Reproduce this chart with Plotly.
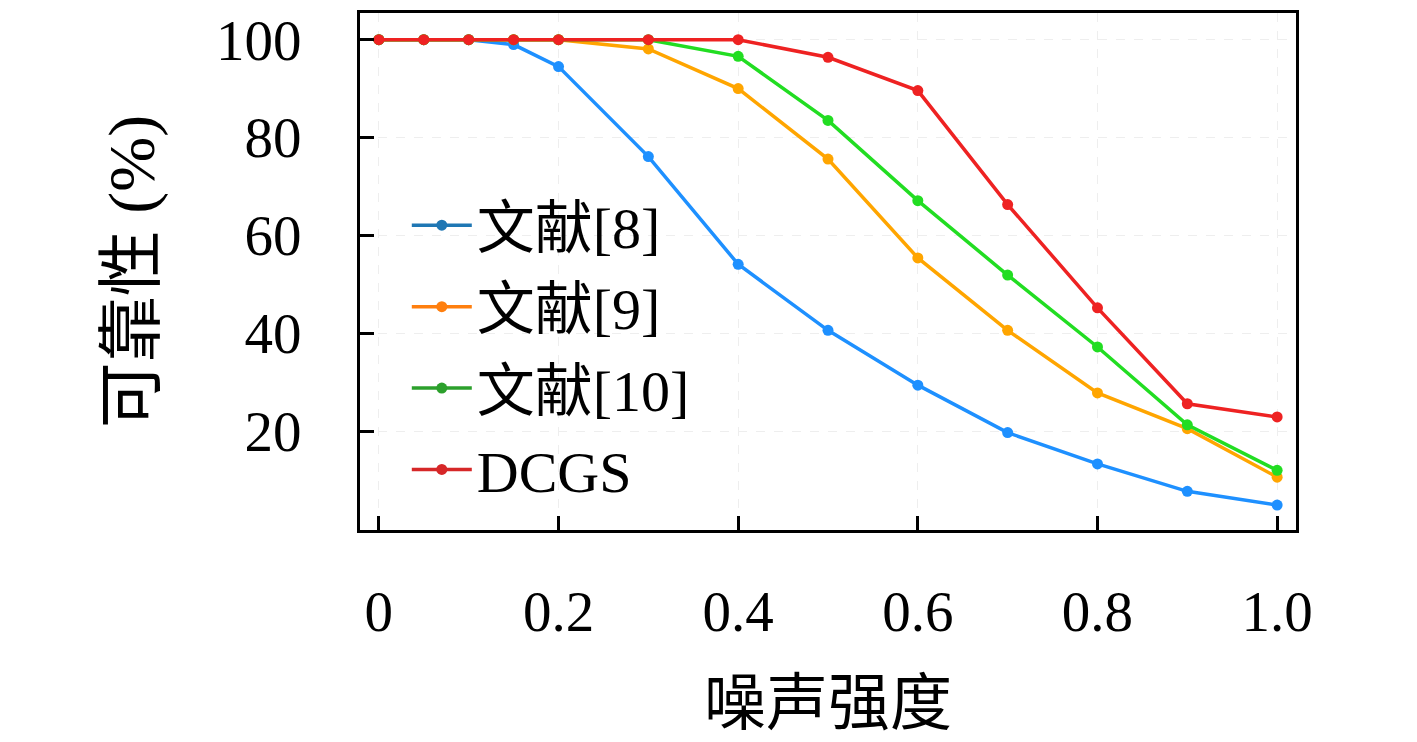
import plotly.graph_objects as go

noise = [0, 0.05, 0.1, 0.15, 0.2, 0.3, 0.4, 0.5, 0.6, 0.7, 0.8, 0.9, 1.0]
ref8 = [100, 100, 100, 99.0, 94.5, 76.1, 54.1, 40.6, 29.4, 19.7, 13.3, 7.7, 4.9]
ref9 = [100, 100, 100, 100, 100, 98.1, 90.0, 75.6, 55.4, 40.6, 27.8, 20.5, 10.6]
ref10 = [100, 100, 100, 100, 100, 100, 96.6, 83.5, 67.1, 51.9, 37.2, 21.3, 12.0]
dcgs = [100, 100, 100, 100, 100, 100, 100, 96.4, 89.6, 66.3, 45.2, 25.6, 22.9]

names = ['文献[8]', '文献[9]', '文献[10]', 'DCGS']
line_colors = ['#1e90ff', '#ffa500', '#22dd22', '#ee2222']
legend_colors = ['#1f77b4', '#ff7f0e', '#2ca02c', '#d62728']

xtick_vals = [0, 0.2, 0.4, 0.6, 0.8, 1.0]
xtick_text = ['0', '0.2', '0.4', '0.6', '0.8', '1.0']
ytick_vals = [20, 40, 60, 80, 100]

font_family = 'Liberation Serif, Noto Sans CJK SC, serif'

fig = go.Figure()
for ys, name, c in zip([ref8, ref9, ref10, dcgs], names, line_colors):
    fig.add_trace(go.Scatter(x=noise, y=ys, name=name, mode='lines+markers',
                             line=dict(color=c, width=3.5),
                             marker=dict(color=c, size=11),
                             showlegend=False))
# legend entries use the default palette, as in the original
for i, (name, c) in enumerate(zip(names, legend_colors)):
    fig.add_trace(go.Scatter(x=[None], y=[None], name=name, mode='lines+markers',
                             legendgroup=str(i),
                             line=dict(color=c, width=3.5),
                             marker=dict(color=c, size=11)))

axis_style = dict(showline=True, linecolor='black', linewidth=3, mirror=True,
                  ticks='inside', ticklen=14, tickwidth=3, tickcolor='black',
                  showgrid=True, gridcolor='#eeeeee', griddash='dash', gridwidth=1,
                  zeroline=False, ticklabeloverflow='allow',
                  tickfont=dict(size=57, color='black'))

fig.update_xaxes(range=[-0.021, 1.021], tickvals=xtick_vals, ticktext=xtick_text,
                 ticklabelstandoff=30,
                 title=dict(text='噪声强度', font=dict(size=62, color='black'), standoff=40),
                 **axis_style)
fig.update_yaxes(range=[-0.2, 105.45], tickvals=ytick_vals,
                 ticklabelstandoff=44,
                 title=dict(text='可靠性 (%)', font=dict(size=66, color='black'), standoff=40),
                 **axis_style)

fig.update_layout(
    width=1417, height=742,
    margin=dict(l=352, r=129, t=1, b=220),
    paper_bgcolor='white', plot_bgcolor='white',
    font=dict(family=font_family, color='black'),
    legend=dict(x=0.05, y=0.675, xanchor='left', yanchor='top',
                bgcolor='rgba(0,0,0,0)', font=dict(size=58),
                tracegroupgap=3, itemwidth=60),
)

fig.write_html("out.html")
